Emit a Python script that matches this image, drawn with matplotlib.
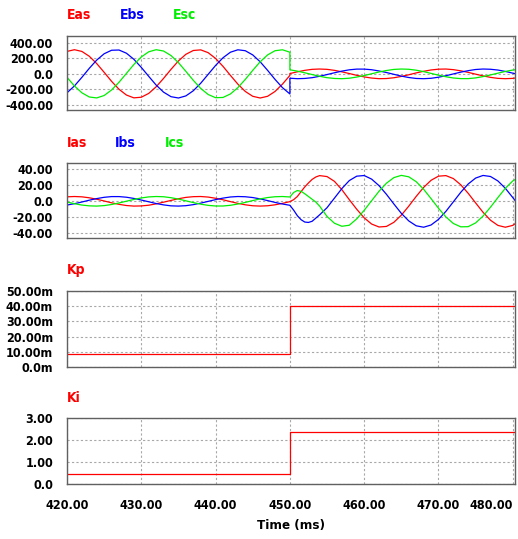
import numpy as np
import matplotlib.pyplot as plt

# Time axis (ms)
t_pre = np.arange(420, 451)          # 420 .. 450
t_post = np.arange(450, 482)         # 450 .. 481
t_cur = np.concatenate([np.arange(420, 450), np.arange(450, 454, 0.5), np.arange(454, 482)])
t_step = 450.0

# Phase voltages (V)
eas_pre = [288, 310, 288, 226, 132, 20, -96, -198, -272, -308, -300, -251, -166, -58, 58, 166,
           251, 300, 308, 272, 198, 96, -20, -132, -226, -288, -310, -288, -226, -132, -20]
ebs_pre = [-243, -155, -45, 71, 177, 258, 303, 306, 265, 187, 83, -32, -144, -235, -293, -310,
           -283, -217, -120, -6, 108, 207, 278, 309, 297, 243, 155, 45, -71, -177, -258]
esc_pre = [-45, -155, -243, -297, -309, -278, -207, -108, 6, 120, 217, 283, 310, 293, 235, 144,
           32, -83, -187, -265, -306, -303, -258, -177, -71, 45, 155, 243, 297, 309, 278]
eas_post = [4, 26, 45, 58, 62, 58, 45, 26, 4, -19, -39, -54, -62, -60, -50, -33,
            -12, 12, 33, 50, 60, 62, 54, 39, 19, -4, -26, -45, -58, -62, -58, -45]
ebs_post = [-56, -62, -59, -49, -31, -9, 14, 35, 52, 61, 61, 53, 37, 17, -6, -29,
            -47, -59, -62, -57, -43, -24, -1, 22, 41, 56, 62, 59, 49, 31, 9, -14]
esc_post = [52, 35, 14, -9, -31, -49, -59, -62, -56, -41, -22, 1, 24, 43, 57, 62,
            59, 47, 29, 6, -17, -37, -53, -61, -61, -52, -35, -14, 9, 31, 49, 59]

# Phase currents (A)
ias = [5.6, 6.0, 5.6, 4.4, 2.6, 0.4, -1.9, -3.8, -5.3, -6.0, -5.8, -4.9, -3.2, -1.1, 1.1, 3.2,
       4.9, 5.8, 6.0, 5.3, 3.8, 1.9, -0.4, -2.6, -4.4, -5.6, -6.0, -5.6, -4.4, -2.6,
       -0.4, 2, 6, 12, 18, 23, 27.5, 30.5,
       32.2, 31, 25, 14.5, 2.0, -10.0, -20.7, -28.5, -32.2, -31.5, -26.3, -17.4, -6.1, 6.1,
       17.4, 26.3, 31.5, 32.2, 28.5, 20.7, 10.0, -2.0, -13.8, -23.7, -30.2, -32.5, -30.2, -23.7]
ibs = [-4.7, -3.0, -0.9, 1.4, 3.4, 5.0, 5.9, 5.9, 5.1, 3.6, 1.6, -0.6, -2.8, -4.5, -5.7, -6.0,
       -5.5, -4.2, -2.3, -0.1, 2.1, 4.0, 5.4, 6.0, 5.7, 4.7, 3.0, 0.9, -1.4, -3.4,
       -5.0, -11, -18, -23, -26, -26.5, -25, -21,
       -17, -8, 4, 16, 26, 31.5, 32.3, 27.8, 19.6, 8.7, -3.4, -15.1, -24.6, -30.7, -32.5, -29.7,
       -22.7, -12.6, -0.7, 11.3, 21.7, 29.1, 32.4, 31.1, 25.5, 16.3, 4.7, -7.4]
ics = [-0.9, -3.0, -4.7, -5.7, -6.0, -5.4, -4.0, -2.1, 0.1, 2.3, 4.2, 5.5, 6.0, 5.7, 4.5, 2.8,
       0.6, -1.6, -3.6, -5.1, -5.9, -5.9, -5.0, -3.4, -1.4, 0.9, 3.0, 4.7, 5.7, 6.0,
       5.4, 11, 13.5, 12.5, 9.5, 6, 2.5, -1,
       -6, -19, -27.5, -31.3, -30, -22, -11.3, 0.7, 12.6, 22.7, 29.7, 32.5, 30.7, 24.6, 15.1, 3.4,
       -8.7, -19.6, -27.8, -32.0, -31.8, -27.1, -18.5, -7.4, 4.7, 16.3, 25.5, 31.1]

# Controller gains
kp_before, kp_after = 8.3e-3, 40e-3
ki_before, ki_after = 0.44, 2.37

x_ticks = [420, 430, 440, 450, 460, 470, 480]
x_ticklabels = ['420.00', '430.00', '440.00', '450.00', '460.00', '470.00', '480.00']

RED, BLUE, GREEN = '#ff0000', '#0000ff', '#00ee00'
plt.rcParams['font.family'] = ['DejaVu Sans']
plt.rcParams['font.stretch'] = 'condensed'
plt.rcParams['font.weight'] = 'bold'
TICK_FS = 9

W, H = 518, 539
fig = plt.figure(figsize=(W / 100, H / 100), dpi=100)

def make_axes(top, bottom, ylim, yticks, ylabels):
    ax = fig.add_axes([67 / W, 1 - bottom / H, 448 / W, (bottom - top) / H])
    ax.set_xlim(420, 480.3)
    ax.set_ylim(*ylim)
    ax.set_xticks(x_ticks)
    ax.set_yticks(yticks)
    ax.set_yticklabels(ylabels, fontsize=TICK_FS, fontweight='bold')
    ax.tick_params(length=0, pad=10)
    ax.tick_params(axis='x', labelbottom=False)
    ax.grid(True, color='#a8a8a8', linestyle=(0, (2, 2)), linewidth=0.8)
    for s in ax.spines.values():
        s.set_color('#606060')
        s.set_linewidth(1.0)
    return ax

def header(y, items):
    for x, txt, col in items:
        fig.text(x / W, 1 - y / H, txt, color=col, fontsize=10, fontweight='bold',
                 ha='left', va='center')

# Voltages
ax1 = make_axes(36, 110, (-464, 486), [400, 200, 0, -200, -400],
                ['400.00', '200.00', '0.0', '-200.00', '-400.00'])
t_v = np.concatenate([t_pre, t_post])
for pre, post, col in [(eas_pre, eas_post, RED), (ebs_pre, ebs_post, BLUE), (esc_pre, esc_post, GREEN)]:
    ax1.plot(t_v, np.concatenate([pre, post]), color=col, linewidth=0.9)
header(15, [(67, 'Eas', RED), (120, 'Ebs', BLUE), (173, 'Esc', GREEN)])

# Currents
ax2 = make_axes(163, 238, (-46, 48), [40, 20, 0, -20, -40],
                ['40.00', '20.00', '0.0', '-20.00', '-40.00'])
for vals, col in [(ias, RED), (ibs, BLUE), (ics, GREEN)]:
    ax2.plot(t_cur, vals, color=col, linewidth=0.9)
header(143, [(67, 'Ias', RED), (115, 'Ibs', BLUE), (165, 'Ics', GREEN)])

# Kp
ax3 = make_axes(291, 367, (0, 0.05), [0.05, 0.04, 0.03, 0.02, 0.01, 0.0],
                ['50.00m', '40.00m', '30.00m', '20.00m', '10.00m', '0.0m'])
ax3.plot([420, t_step, t_step, 481], [kp_before, kp_before, kp_after, kp_after],
         color=RED, linewidth=0.9)
header(270, [(67, 'Kp', RED)])

# Ki
ax4 = make_axes(418, 484, (0, 3), [3, 2, 1, 0], ['3.00', '2.00', '1.00', '0.0'])
ax4.plot([420, t_step, t_step, 481], [ki_before, ki_before, ki_after, ki_after],
         color=RED, linewidth=0.9)
header(398, [(67, 'Ki', RED)])
ax4.tick_params(axis='x', labelbottom=True, pad=11)
ax4.set_xticklabels(x_ticklabels, fontsize=TICK_FS, fontweight='bold')
ax4.get_xticklabels()[-1].set_horizontalalignment('right')
ax4.set_xlabel('Time (ms)', fontsize=9.5, fontweight='bold', labelpad=5)

fig.savefig('out.png', dpi=100)
